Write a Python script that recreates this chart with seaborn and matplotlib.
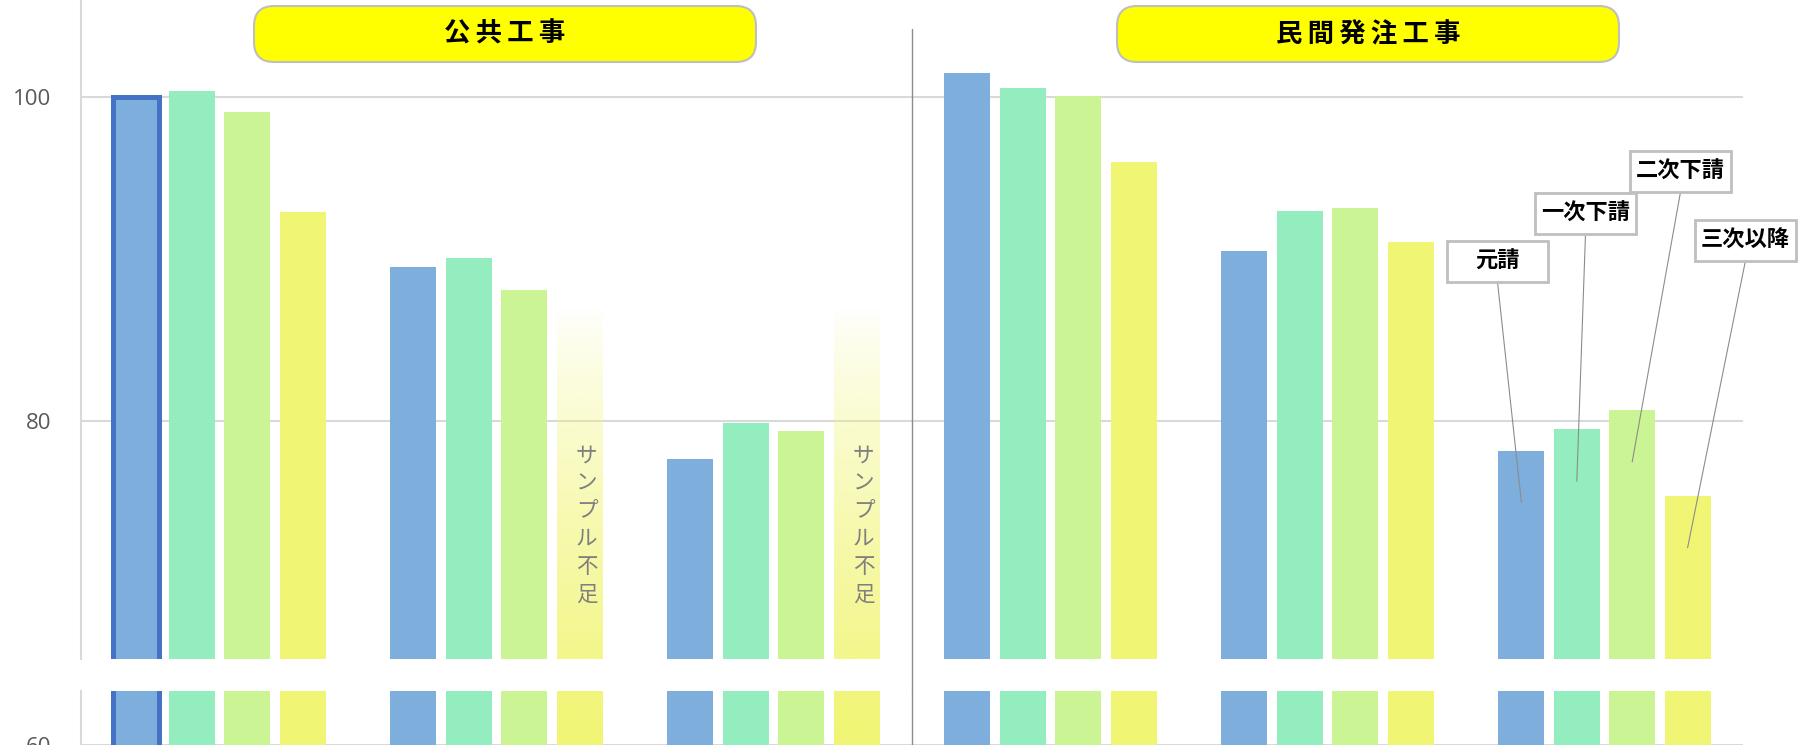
import numpy as np
import pandas as pd
import matplotlib
matplotlib.use("Agg")
import matplotlib.pyplot as plt
import seaborn as sns
from matplotlib.patches import FancyBboxPatch, Rectangle
from matplotlib.colors import to_rgb

# ---------------- data ----------------
categories = ["公共工事 A", "公共工事 B", "公共工事 C",
              "民間発注工事 A", "民間発注工事 B", "民間発注工事 C"]
tiers = ["元請", "一次下請", "二次下請", "三次以降"]
motouke = [100.0, 89.5, 77.7, 101.5, 90.5, 78.2]
ichiji = [100.4, 90.1, 79.9, 100.6, 93.0, 79.5]
niji = [99.1, 88.1, 79.4, 100.1, 93.2, 80.7]
sanji = [92.9, np.nan, np.nan, 96.0, 91.1, 75.4]
insufficient_height = 87.0          # height of the faded "sample shortage" bars
sector_titles = ["公共工事", "民間発注工事"]
sample_note = "サンプル不足"
palette = {"元請": "#7DAEDC", "一次下請": "#93EDBE",
           "二次下請": "#CBF594", "三次以降": "#F1F574"}

series = {"元請": motouke, "一次下請": ichiji, "二次下請": niji, "三次以降": sanji}
rows = []
for t in tiers:
    for c, v in zip(categories, series[t]):
        rows.append({"category": c, "tier": t, "value": v,
                     "plot_value": insufficient_height if np.isnan(v) else v,
                     "missing": bool(np.isnan(v))})
df = pd.DataFrame(rows)

# ---------------- style ----------------
sns.set_style("white")
plt.rcParams["font.family"] = ["Noto Sans CJK JP", "DejaVu Sans"]

W, H = 1807, 745
fig = plt.figure(figsize=(W / 100, H / 100), dpi=100)
left, right = 81 / W, 1743 / W
ax_top = fig.add_axes([left, 1 - 659 / H, right - left, 659 / H])
ax_bot = fig.add_axes([left, 0, right - left, (H - 691) / H])

CJK = ["Noto Sans CJK JP", "DejaVu Sans"]
NUM = ["Open Sans", "DejaVu Sans"]
grid_c = "#D9D9D9"

for ax, ylim in ((ax_top, (65.33, 106.01)), (ax_bot, (60, 62))):
    sns.barplot(data=df, x="category", y="plot_value", hue="tier",
                order=categories, hue_order=tiers, palette=palette,
                saturation=1, width=0.8, gap=0.17, errorbar=None,
                legend=False, linewidth=0, ax=ax)
    patch_map = {}
    for p in ax.patches:
        cx = p.get_x() + p.get_width() / 2
        ci = int(round(cx))
        ti = int(round((cx - ci + 0.3) / 0.2))
        patch_map[(ci, ti)] = p
    # highlighted first bar
    first = patch_map[(0, 0)]
    first.set_edgecolor("#4472C4")
    first.set_linewidth(3.6)
    # faded bars for insufficient samples
    rgb = to_rgb(palette["三次以降"])
    for ci, c in enumerate(categories):
        for ti, t in enumerate(tiers):
            if df[(df.category == c) & (df.tier == t)].missing.iloc[0]:
                p = patch_map[(ci, ti)]
                p.set_visible(False)
                grad = np.zeros((256, 1, 4))
                grad[..., :3] = rgb
                grad[:, 0, 3] = np.linspace(0, 1, 256) ** 0.8
                x0 = p.get_x()
                ax.imshow(grad, extent=(x0, x0 + p.get_width(), 60, p.get_height()),
                          aspect="auto", origin="upper", interpolation="bilinear",
                          zorder=p.get_zorder())
                if ax is ax_top:
                    ax.text(x0 + p.get_width() / 2 + 0.025, 73.6, "\n".join(sample_note),
                            ha="center", va="center", fontsize=15.5, color="#7F7F7F",
                            linespacing=1.34, family=CJK, zorder=5)
    ax.set_xlim(-0.5, len(categories) - 0.5)
    ax.set_ylim(*ylim)
    ax.set_xticks([])
    ax.set_xlabel("")
    ax.set_ylabel("")
    ax.set_axisbelow(True)
    ax.yaxis.grid(True, color=grid_c, linewidth=1.5)
    for s in ("top", "right", "bottom"):
        ax.spines[s].set_visible(False)
    ax.spines["left"].set_color(grid_c)
    ax.spines["left"].set_linewidth(1.5)
    ax.tick_params(axis="y", length=0, pad=21.5, labelsize=16, labelcolor="#595959")
    ax.patch.set_alpha(0)

    if ax is ax_top:
        ax.set_yticks([80, 100])
        ax.axvline(2.5, ymin=-(32 / 659), ymax=1 - 28.5 / 659, color="#8C8C8C",
                   lw=1, clip_on=False)
        # callout labels for the last group: fixed-size boxes (figure pixels)
        boxes = {"元請": (1447, 241), "一次下請": (1535, 193),
                 "二次下請": (1630, 151), "三次以降": (1695, 219.5)}
        bw, bh = 101, 41
        last = len(categories) - 1
        for ti, t in enumerate(tiers):
            p = patch_map[(last, ti)]
            bx, by = boxes[t]
            ax.annotate("", xy=(p.get_x() + p.get_width() / 2, p.get_height() - 3.2),
                        xycoords="data", xytext=(bx + bw / 2, H - by - bh),
                        textcoords="figure pixels",
                        arrowprops=dict(arrowstyle="-", color="#8C8C8C", lw=0.8,
                                        shrinkA=0, shrinkB=0),
                        zorder=6, annotation_clip=False)
            rect = Rectangle((bx / 100, (H - by - bh) / 100), bw / 100, bh / 100,
                             transform=fig.dpi_scale_trans, fc="white", ec="#BFBFBF",
                             lw=2, zorder=7)
            fig.add_artist(rect)
            fig.text((bx + bw / 2) / W, 1 - (by + bh / 2) / H, t, ha="center",
                     va="center", fontsize=16, color="black", family=CJK,
                     weight="bold", zorder=8)
    else:
        ax.set_yticks([60])
        ax.axvline(2.5, color="#8C8C8C", lw=1)
    for lab in ax.get_yticklabels():
        lab.set_family(NUM)

# sector header boxes
for title, (bx0, bx1) in zip(sector_titles, [(254, 756), (1117, 1619)]):
    box = FancyBboxPatch((bx0 / 100, (H - 62) / 100), (bx1 - bx0) / 100, 0.56,
                         boxstyle="round,pad=0,rounding_size=0.2",
                         transform=fig.dpi_scale_trans, fc="#FFFF00", ec="#BFBFBF", lw=1.5)
    fig.add_artist(box)
    fig.text((bx0 + bx1) / 2 / W, 1 - 34.5 / H, "\u2009".join(title),
             ha="center", va="center", fontsize=19, color="black", family=CJK,
             weight="bold")

fig.savefig("out.png", dpi=100)
